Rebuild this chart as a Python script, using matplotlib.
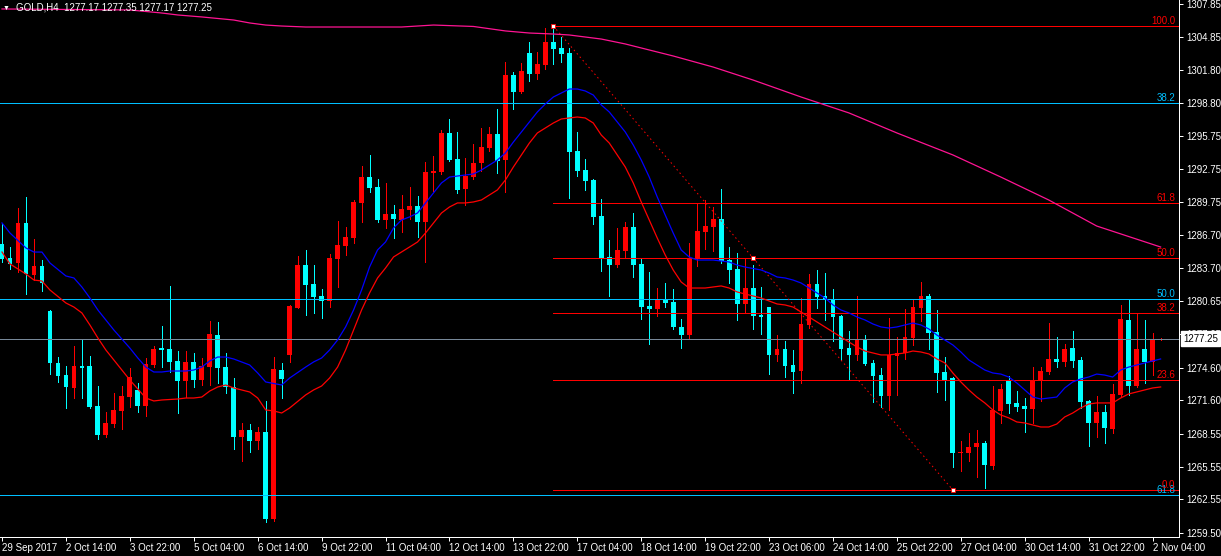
import matplotlib
matplotlib.use('Agg')
import matplotlib.pyplot as plt

plt.rcParams['font.family'] = ['Liberation Sans', 'DejaVu Sans']

# GOLD H4 candles, oldest first
opens = [1285.90, 1284.63, 1284.17, 1287.83, 1283.07, 1283.89, 1279.78, 1275.03, 1273.92, 1272.74,
         1274.75, 1274.75, 1271.09, 1268.44, 1269.44, 1270.64, 1271.91, 1272.56, 1271.09, 1274.84,
         1276.39, 1276.30, 1275.21, 1273.38, 1275.12, 1273.47, 1274.65, 1277.58, 1274.65, 1272.83,
         1268.26, 1268.90, 1267.89, 1268.72, 1260.76, 1274.38, 1275.76, 1280.05, 1283.98, 1282.25,
         1281.15, 1280.70, 1284.54, 1285.72, 1286.46, 1289.66, 1292.03, 1291.12, 1288.10, 1288.65,
         1288.10, 1289.02, 1289.38, 1287.92, 1292.40, 1292.49, 1296.06, 1293.68, 1290.94, 1292.03,
         1293.31, 1294.69, 1295.97, 1293.59, 1301.36, 1299.81, 1303.37, 1301.45, 1302.28, 1304.38,
         1303.83, 1303.37, 1294.41, 1292.67, 1291.76, 1288.47, 1284.72, 1283.98, 1285.27, 1287.46,
         1284.08, 1280.24, 1279.96, 1280.79, 1280.60, 1278.32, 1277.58, 1284.63, 1287.00, 1287.46,
         1288.19, 1284.44, 1283.62, 1280.42, 1281.88, 1279.41, 1280.14, 1275.76, 1276.30, 1274.84,
         1274.29, 1278.50, 1282.25, 1281.15, 1280.88, 1279.32, 1276.39, 1275.76, 1277.13, 1275.03,
         1273.92, 1272.01, 1275.67, 1275.94, 1277.31, 1280.05, 1281.15, 1277.86, 1274.20, 1273.65,
         1266.79, 1266.79, 1267.34, 1267.71, 1265.60, 1270.64, 1273.47, 1271.37, 1271.09, 1270.82,
         1273.38, 1274.20, 1275.39, 1275.12, 1276.39, 1275.30, 1271.55, 1269.54, 1270.55, 1268.99,
         1272.10, 1278.96, 1272.92, 1276.30, 1275.12, 1277.17]
highs = [1287.73, 1285.63, 1289.20, 1290.21, 1286.36, 1284.44, 1279.87, 1275.57, 1274.75, 1276.58,
         1277.13, 1275.67, 1272.92, 1270.55, 1272.29, 1272.92, 1274.56, 1273.20, 1275.48, 1276.58,
         1278.41, 1282.06, 1276.12, 1276.12, 1275.94, 1275.48, 1278.87, 1278.77, 1275.94, 1273.65,
         1269.54, 1269.44, 1269.17, 1271.55, 1275.57, 1275.03, 1280.33, 1284.81, 1285.36, 1283.98,
         1281.79, 1284.99, 1288.01, 1287.46, 1289.93, 1293.04, 1294.05, 1291.85, 1291.49, 1289.47,
         1290.39, 1291.12, 1290.30, 1293.41, 1293.95, 1296.33, 1297.34, 1296.15, 1293.77, 1295.05,
         1296.51, 1296.61, 1298.25, 1302.55, 1301.64, 1302.46, 1304.38, 1303.46, 1305.66, 1305.84,
         1304.84, 1303.83, 1296.15, 1293.68, 1291.85, 1290.02, 1286.27, 1287.37, 1287.92, 1288.74,
         1284.63, 1283.35, 1281.88, 1282.34, 1281.79, 1279.05, 1286.00, 1289.57, 1289.93, 1289.29,
         1290.94, 1285.63, 1285.08, 1284.63, 1283.98, 1281.97, 1280.14, 1277.58, 1277.04, 1276.21,
         1280.97, 1283.16, 1283.53, 1283.25, 1281.79, 1279.41, 1277.95, 1281.15, 1277.58, 1275.30,
         1274.56, 1279.14, 1277.40, 1279.96, 1280.79, 1282.43, 1281.33, 1279.87, 1275.57, 1273.74,
         1267.89, 1268.62, 1268.90, 1267.89, 1272.92, 1273.10, 1273.83, 1272.46, 1271.82, 1274.65,
         1274.65, 1278.68, 1277.40, 1276.76, 1277.95, 1275.57, 1271.64, 1272.01, 1271.18, 1273.10,
         1280.33, 1280.88, 1279.60, 1278.96, 1277.77, 1277.35]
lows = [1284.26, 1283.62, 1283.35, 1281.33, 1282.61, 1281.61, 1274.01, 1273.29, 1270.91, 1271.82,
        1271.82, 1270.91, 1268.07, 1268.26, 1269.17, 1268.99, 1271.00, 1270.55, 1270.18, 1274.65,
        1274.65, 1274.20, 1270.45, 1271.91, 1272.83, 1273.01, 1273.01, 1273.20, 1272.29, 1267.16,
        1266.06, 1266.88, 1267.16, 1260.49, 1260.58, 1271.82, 1275.12, 1280.05, 1279.41, 1279.60,
        1279.14, 1280.14, 1281.97, 1284.90, 1286.00, 1287.92, 1290.66, 1287.92, 1287.37, 1286.46,
        1287.00, 1288.19, 1286.55, 1284.26, 1290.75, 1292.31, 1293.50, 1290.57, 1289.47, 1291.85,
        1292.58, 1294.41, 1292.40, 1290.66, 1298.25, 1299.72, 1300.81, 1300.99, 1301.91, 1302.37,
        1302.55, 1290.11, 1292.12, 1290.85, 1287.73, 1283.44, 1281.15, 1283.80, 1284.63, 1282.89,
        1279.05, 1276.76, 1279.32, 1280.14, 1278.13, 1276.39, 1277.31, 1283.89, 1285.45, 1285.27,
        1284.17, 1282.34, 1278.96, 1279.69, 1278.13, 1277.68, 1274.01, 1275.21, 1273.74, 1272.29,
        1273.20, 1278.22, 1280.05, 1278.96, 1277.04, 1275.30, 1273.47, 1275.30, 1274.84, 1271.46,
        1271.00, 1270.73, 1272.10, 1275.39, 1276.67, 1278.86, 1276.30, 1272.37, 1271.64, 1265.51,
        1265.15, 1266.06, 1264.60, 1263.59, 1265.33, 1269.54, 1270.45, 1270.64, 1268.72, 1269.54,
        1271.55, 1274.01, 1274.65, 1274.75, 1274.65, 1270.91, 1267.43, 1268.26, 1267.71, 1268.62,
        1271.91, 1272.10, 1272.83, 1273.20, 1273.92, 1277.17]
closes = [1284.54, 1284.07, 1287.83, 1283.16, 1283.89, 1282.34, 1275.03, 1273.83, 1272.83, 1274.75,
          1274.56, 1271.00, 1268.44, 1269.54, 1270.73, 1272.01, 1273.74, 1271.09, 1274.93, 1276.30,
          1276.21, 1275.12, 1273.38, 1275.12, 1273.47, 1274.75, 1277.68, 1274.56, 1272.83, 1268.26,
          1268.90, 1267.89, 1268.72, 1260.76, 1274.47, 1273.56, 1280.24, 1283.98, 1282.16, 1281.06,
          1280.70, 1284.63, 1285.81, 1286.55, 1289.75, 1292.03, 1291.03, 1288.10, 1288.65, 1288.19,
          1289.11, 1289.38, 1287.92, 1292.49, 1292.58, 1296.06, 1293.59, 1290.85, 1292.12, 1293.31,
          1294.78, 1295.97, 1293.50, 1301.36, 1299.81, 1301.73, 1301.45, 1302.37, 1304.38, 1303.74,
          1303.28, 1294.32, 1292.58, 1291.67, 1288.38, 1284.63, 1283.98, 1285.36, 1287.46, 1283.98,
          1280.14, 1279.96, 1280.79, 1280.51, 1278.32, 1277.58, 1284.63, 1287.10, 1287.55, 1288.19,
          1284.35, 1283.53, 1280.42, 1281.88, 1279.32, 1279.23, 1275.76, 1276.30, 1274.75, 1274.20,
          1278.59, 1282.25, 1281.06, 1280.88, 1279.23, 1276.30, 1275.76, 1277.13, 1274.93, 1273.83,
          1272.01, 1275.76, 1275.94, 1277.40, 1280.14, 1281.15, 1277.77, 1274.11, 1273.47, 1266.79,
          1266.88, 1267.34, 1267.71, 1265.69, 1270.73, 1272.65, 1271.27, 1271.00, 1270.82, 1273.47,
          1274.29, 1275.39, 1275.12, 1276.30, 1275.21, 1271.46, 1269.54, 1270.55, 1269.08, 1272.19,
          1279.05, 1272.92, 1276.30, 1275.12, 1277.22, 1277.25]

# moving averages (bar index, price)
blue_idx = [0, 1, 3, 4, 5, 6, 8, 9, 10, 11, 12, 13, 14, 15, 16, 17, 18, 19, 20, 21, 23, 24, 25, 26, 27,
            28, 29, 31, 32, 33, 35, 36, 38, 39, 40, 41, 42, 43, 44, 45, 46, 47, 48, 49, 50, 51, 52, 53,
            54, 55, 56, 57, 58, 59, 60, 62, 63, 64, 65, 66, 67, 68, 69, 70, 71, 72, 73, 74, 75, 76, 77,
            78, 79, 80, 81, 82, 83, 84, 85, 86, 87, 88, 89, 91, 92, 93, 95, 96, 97, 98, 99, 100, 101,
            102, 103, 104, 105, 106, 107, 108, 109, 110, 111, 112, 113, 114, 115, 116, 117, 119, 120,
            121, 122, 123, 124, 125, 126, 127, 128, 129, 130, 131, 132, 133, 134, 135, 136, 137, 138,
            139, 140, 141, 142, 143, 144, 145]
blue_val = [1287.83, 1286.91, 1285.54, 1285.17, 1285.17, 1284.17, 1282.98, 1282.80, 1281.97, 1280.97,
            1279.87, 1278.96, 1278.04, 1277.22, 1276.39, 1275.48, 1274.65, 1274.20, 1274.20, 1274.29,
            1274.29, 1274.38, 1274.65, 1275.21, 1275.57, 1275.57, 1275.39, 1274.84, 1274.11, 1273.29,
            1273.01, 1273.65, 1274.65, 1275.12, 1275.48, 1276.21, 1277.13, 1278.32, 1279.87, 1281.70,
            1283.80, 1285.36, 1286.09, 1287.37, 1288.10, 1288.38, 1288.74, 1289.66, 1290.57, 1291.49,
            1292.03, 1292.12, 1292.22, 1292.31, 1292.67, 1293.59, 1294.23, 1295.23, 1296.15, 1297.06,
            1297.98, 1298.71, 1299.35, 1299.72, 1300.08, 1300.08, 1299.90, 1299.53, 1298.62, 1297.98,
            1297.06, 1296.15, 1294.96, 1293.59, 1292.03, 1290.21, 1288.56, 1286.91, 1285.36, 1284.72,
            1284.44, 1284.44, 1284.44, 1284.26, 1283.98, 1283.80, 1283.53, 1283.25, 1282.89, 1282.80,
            1282.61, 1282.34, 1281.88, 1281.43, 1280.97, 1280.33, 1279.87, 1279.60, 1279.23, 1278.96,
            1278.59, 1278.32, 1278.22, 1278.32, 1278.50, 1278.68, 1278.50, 1278.13, 1277.58, 1276.67,
            1276.03, 1275.30, 1274.84, 1274.38, 1274.11, 1274.01, 1273.74, 1273.20, 1272.56, 1271.91,
            1271.73, 1271.82, 1271.91, 1272.74, 1273.29, 1273.56, 1273.74, 1274.01, 1273.92, 1273.74,
            1274.38, 1274.65, 1274.84, 1275.03, 1275.21, 1275.39]
red_idx = [0, 1, 3, 4, 5, 6, 8, 9, 10, 11, 12, 13, 14, 15, 16, 17, 18, 19, 20, 22, 23, 24, 25, 26, 27,
           28, 29, 31, 32, 33, 34, 35, 36, 38, 39, 40, 41, 42, 43, 44, 45, 46, 47, 48, 49, 50, 51, 52,
           53, 54, 55, 56, 57, 58, 59, 60, 62, 63, 64, 65, 66, 67, 68, 69, 70, 71, 72, 73, 74, 75, 76,
           77, 78, 79, 80, 81, 82, 83, 84, 85, 86, 87, 88, 89, 90, 91, 92, 93, 94, 95, 96, 97, 98, 99,
           100, 101, 102, 103, 104, 105, 106, 107, 108, 109, 110, 111, 112, 113, 114, 115, 116, 117,
           118, 119, 120, 121, 122, 123, 124, 125, 126, 127, 128, 129, 130, 131, 132, 133, 134, 135,
           136, 137, 138, 139, 140, 141, 142, 143, 144, 145]
red_val = [1285.17, 1284.08, 1283.16, 1282.61, 1282.52, 1281.70, 1280.51, 1280.14, 1279.60, 1278.50,
           1277.31, 1276.21, 1275.30, 1274.38, 1273.47, 1272.65, 1271.82, 1271.55, 1271.64, 1271.73,
           1271.82, 1271.82, 1271.91, 1272.46, 1272.83, 1273.01, 1272.74, 1272.37, 1271.82, 1270.73,
           1270.64, 1270.45, 1270.91, 1272.10, 1272.56, 1272.92, 1273.65, 1274.65, 1276.21, 1278.04,
           1279.87, 1281.43, 1282.80, 1283.71, 1284.72, 1285.17, 1285.63, 1286.09, 1286.91, 1287.83,
           1288.74, 1289.29, 1289.66, 1289.66, 1289.75, 1289.93, 1290.85, 1291.76, 1292.95, 1294.05,
           1295.14, 1296.06, 1296.51, 1296.97, 1297.34, 1297.43, 1297.52, 1297.43, 1296.97, 1295.87,
           1295.14, 1294.05, 1292.95, 1291.49, 1289.75, 1288.10, 1286.46, 1284.90, 1283.53, 1282.43,
           1281.88, 1281.88, 1281.88, 1281.97, 1282.07, 1281.88, 1281.52, 1281.33, 1281.15, 1280.97,
           1280.69, 1280.42, 1280.33, 1280.14, 1279.69, 1279.23, 1278.77, 1278.32, 1277.86, 1277.40,
           1276.94, 1276.49, 1276.12, 1275.94, 1275.76, 1275.76, 1275.85, 1275.94, 1276.12, 1276.03,
           1275.85, 1275.39, 1275.03, 1274.11, 1273.29, 1272.56, 1271.91, 1271.37, 1270.73, 1270.27,
           1270.00, 1269.63, 1269.54, 1269.35, 1269.17, 1269.17, 1269.44, 1270.09, 1270.45, 1270.91,
           1271.27, 1271.37, 1271.37, 1271.37, 1271.82, 1272.19, 1272.37, 1272.56, 1272.74, 1272.83]
slow_idx = [0, 16, 20, 22, 25, 29, 31, 33, 35, 38, 50, 54, 59, 63, 66, 69, 71, 75, 78, 81, 84, 89,
            94, 100, 106, 112, 119, 125, 131, 137, 145]
slow_val = [1307.40, 1307.31, 1307.03, 1306.85, 1306.67, 1306.39, 1306.12, 1305.93, 1305.84, 1305.75,
            1305.75, 1305.93, 1305.80, 1305.39, 1305.20, 1305.11, 1305.02, 1304.65, 1304.20, 1303.65,
            1303.10, 1302.09, 1300.90, 1299.35, 1297.89, 1296.06, 1294.05, 1292.03, 1289.93, 1287.55,
            1285.63]

# fibonacci retracement anchors (bar, price) and the second, off-screen one
fib_hi = (69, 1305.84)
fib_lo = (119, 1263.41)
fib_ratios = [0.0, 23.6, 38.2, 50.0, 61.8, 100.0]
fib2_levels = [38.2, 50.0, 61.8]
fib2_prices = [1298.80, 1280.88, 1262.95]

bid = 1277.25
title = 'GOLD,H4  1277.17 1277.35 1277.17 1277.25'

ytick_vals = [1307.85, 1304.85, 1301.80, 1298.80, 1295.75, 1292.75, 1289.75, 1286.70, 1283.70,
              1280.65, 1277.65, 1274.60, 1271.60, 1268.55, 1265.55, 1262.55, 1259.50]
xtick_idx = [0, 8, 16, 24, 32, 40, 48, 56, 64, 72, 80, 88, 96, 104, 112, 120, 128, 136, 144]
xtick_lbl = ['29 Sep 2017', '2 Oct 14:00', '3 Oct 22:00', '5 Oct 04:00', '6 Oct 14:00',
             '9 Oct 22:00', '11 Oct 04:00', '12 Oct 14:00', '13 Oct 22:00', '17 Oct 04:00',
             '18 Oct 14:00', '19 Oct 22:00', '23 Oct 06:00', '24 Oct 14:00', '25 Oct 22:00',
             '27 Oct 04:00', '30 Oct 14:00', '31 Oct 22:00', '2 Nov 04:00']

BULL = '#ff0000'
BEAR = '#00ffff'
FIB2 = '#00bfff'
PX = 0.72  # one pixel in points
FS = 7


def main():
    W, H = 1221, 556
    fig = plt.figure(figsize=(W / 100, H / 100), dpi=100, facecolor='black')
    ax = fig.add_axes([0, 19 / H, 1179 / W, 537 / H], facecolor='black')
    ax.set_xlim(-0.25, 147.3)
    ax.set_ylim(1259.11, 1308.22)

    ytr = ax.get_yaxis_transform()

    # candles
    for i in range(len(opens)):
        o, h, l, c = opens[i], highs[i], lows[i], closes[i]
        col = BULL if c >= o else BEAR
        ax.vlines(i, l, h, color=col, lw=PX, zorder=2, antialiased=False)
        ax.bar(i, max(abs(c - o), 0.09), bottom=min(o, c), width=0.6,
               color=col, lw=0, zorder=2, antialiased=False)

    # second fib (full width)
    for lvl, p in zip(fib2_levels, fib2_prices):
        ax.axhline(p, color=FIB2, lw=PX, zorder=3, antialiased=False)
        ax.text(0.997, p, '%.1f' % lvl, transform=ytr, color=FIB2, fontsize=FS,
                ha='right', va='bottom', zorder=6)

    # main fib from the 13 Oct high
    x0, p_hi = fib_hi
    x1, p_lo = fib_lo
    for r in fib_ratios:
        p = p_lo + (p_hi - p_lo) * r / 100.0
        ax.plot([x0, 147.3], [p, p], color=BULL, lw=PX, zorder=3, antialiased=False)
        ax.text(0.997, p, '%.1f' % r, transform=ytr, color=BULL, fontsize=FS,
                ha='right', va='bottom', zorder=6)
    ax.plot([x0, x1], [p_hi, p_lo], color=BULL, lw=PX, ls=(0, (1.5, 3)), zorder=3)
    ax.plot([x0, (x0 + x1) / 2, x1], [p_hi, (p_hi + p_lo) / 2, p_lo], ls='none',
            marker='s', ms=3, mfc='white', mec=BULL, mew=0.6, zorder=7)

    # bid line
    ax.axhline(bid, color='#778899', lw=PX, zorder=3, antialiased=False)

    # moving averages
    ax.plot(slow_idx, slow_val, color='#ff1493', lw=0.9, zorder=4)
    ax.plot(red_idx, red_val, color='#ff0000', lw=0.9, zorder=4)
    ax.plot(blue_idx, blue_val, color='#0000ff', lw=0.9, zorder=4)

    # axes styling
    for s in ['top', 'left']:
        ax.spines[s].set_visible(False)
    for s in ['right', 'bottom']:
        ax.spines[s].set_color('white')
        ax.spines[s].set_linewidth(PX)
        ax.spines[s].set_antialiased(False)

    ax.yaxis.tick_right()
    ax.set_yticks(ytick_vals)
    ax.set_yticklabels(['%.2f' % v for v in ytick_vals])
    ax.set_xticks(xtick_idx)
    ax.set_xticklabels(xtick_lbl, ha='left')
    ax.tick_params(axis='both', colors='white', labelcolor='white', labelsize=FS,
                   length=3, width=PX, direction='out')
    ax.tick_params(axis='y', pad=2)
    ax.tick_params(axis='x', pad=1)

    # bid price tag on the scale
    ax.text(1.0035, bid, '%.2f' % bid, transform=ytr, color='black', fontsize=FS,
            ha='left', va='center', zorder=10, clip_on=False,
            bbox=dict(boxstyle='square,pad=0.25', fc='white', ec='white'))

    # title in the top-left corner
    fig.text(3 / W, 1 - 8 / H, '\u25bc', color='white', fontsize=5, va='center', ha='left')
    fig.text(16 / W, 1 - 8 / H, title, color='white', fontsize=FS, va='center', ha='left')

    fig.savefig('out.png', dpi=100, facecolor='black')


if __name__ == '__main__':
    main()
